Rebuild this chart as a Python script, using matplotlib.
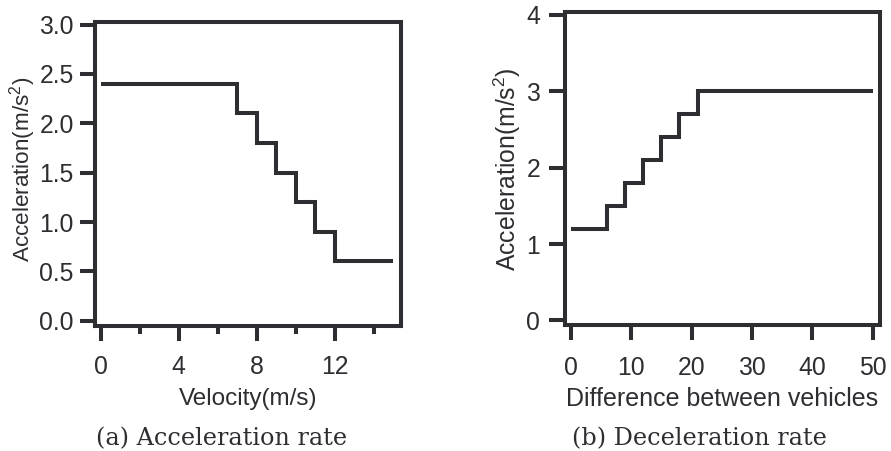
import matplotlib
matplotlib.use("Agg")
import matplotlib.pyplot as plt

# ---- data ----
acc_edges = [0, 7, 8, 9, 10, 11, 12, 15]
acc_values = [2.4, 2.1, 1.8, 1.5, 1.2, 0.9, 0.6]
acc_xticks = [0, 4, 8, 12]
acc_xminor = [2, 6, 10, 14]
acc_yticks = [0.0, 0.5, 1.0, 1.5, 2.0, 2.5, 3.0]

dec_edges = [0, 6, 9, 12, 15, 18, 21, 50]
dec_values = [1.2, 1.5, 1.8, 2.1, 2.4, 2.7, 3.0]
dec_xticks = [0, 10, 20, 30, 40, 50]
dec_yticks = [0, 1, 2, 3, 4]

plt.rcParams['font.family'] = ['Liberation Sans', 'DejaVu Sans']
plt.rcParams['mathtext.fontset'] = 'custom'
plt.rcParams['mathtext.rm'] = 'Liberation Sans'
plt.rcParams['mathtext.default'] = 'regular'

INK = '#2d2d32'
LW = 2.9
W, H = 891, 451
fig = plt.figure(figsize=(W / 100, H / 100), dpi=100, facecolor='white')

def px_axes(l, t, r, b):
    return fig.add_axes([l / W, 1 - b / H, (r - l) / W, (b - t) / H])

ax1 = px_axes(95, 21.7, 401, 326)
ax2 = px_axes(565, 11.7, 880, 325)

for ax in (ax1, ax2):
    for s in ax.spines.values():
        s.set_linewidth(LW)
        s.set_color(INK)
    ax.set_facecolor('white')

# left: acceleration rate
ax1.stairs(acc_values, acc_edges, baseline=None, color=INK, linewidth=LW)
ax1.set_xlim(-0.29, 15.4)
ax1.set_ylim(-0.054, 3.03)
ax1.set_xticks(acc_xticks)
ax1.set_xticks(acc_xminor, minor=True)
ax1.set_yticks(acc_yticks)
ax1.set_yticklabels([f"{v:.1f}" for v in acc_yticks])
ax1.tick_params(axis='y', which='major', direction='out', length=11, width=LW,
                color=INK, labelcolor=INK, labelsize=17.8, pad=4.3)
ax1.tick_params(axis='x', which='major', direction='out', length=11, width=LW,
                color=INK, labelcolor=INK, labelsize=17.8, pad=10)
ax1.tick_params(axis='x', which='minor', direction='out', length=5.8, width=LW,
                color=INK)

# right: deceleration rate
ax2.stairs(dec_values, dec_edges, baseline=None, color=INK, linewidth=LW)
ax2.set_xlim(-0.94, 51.2)
ax2.set_ylim(-0.06, 4.04)
ax2.set_xticks(dec_xticks)
ax2.set_yticks(dec_yticks)
ax2.tick_params(axis='y', which='major', direction='out', length=11.5, width=LW,
                color=INK, labelcolor=INK, labelsize=17.8, pad=6.5)
ax2.tick_params(axis='x', which='major', direction='out', length=11, width=LW,
                color=INK, labelcolor=INK, labelsize=17.8, pad=11.5)

# axis labels
lab = dict(color=INK, ha='center', va='center')
fig.text(248 / W, 1 - 399 / H, 'Velocity(m/s)', fontsize=17.5, **lab)
fig.text(722 / W, 1 - 399 / H, 'Difference between vehicles', fontsize=18, **lab)
fig.text(22.5 / W, 1 - 169 / H, r'Acceleration(m/s$^2$)', rotation=90,
         fontsize=16.2, **lab)
fig.text(507 / W, 1 - 169 / H, r'Acceleration(m/s$^2$)', rotation=90,
         fontsize=17.8, **lab)

# captions
cap = dict(color=INK, fontsize=17.2, ha='center', va='center', family='DejaVu Serif')
fig.text(221.5 / W, 1 - 439 / H, '(a) Acceleration rate', **cap)
fig.text(699 / W, 1 - 439 / H, '(b) Deceleration rate', **cap)

fig.savefig('out.png', dpi=100, facecolor='white')
